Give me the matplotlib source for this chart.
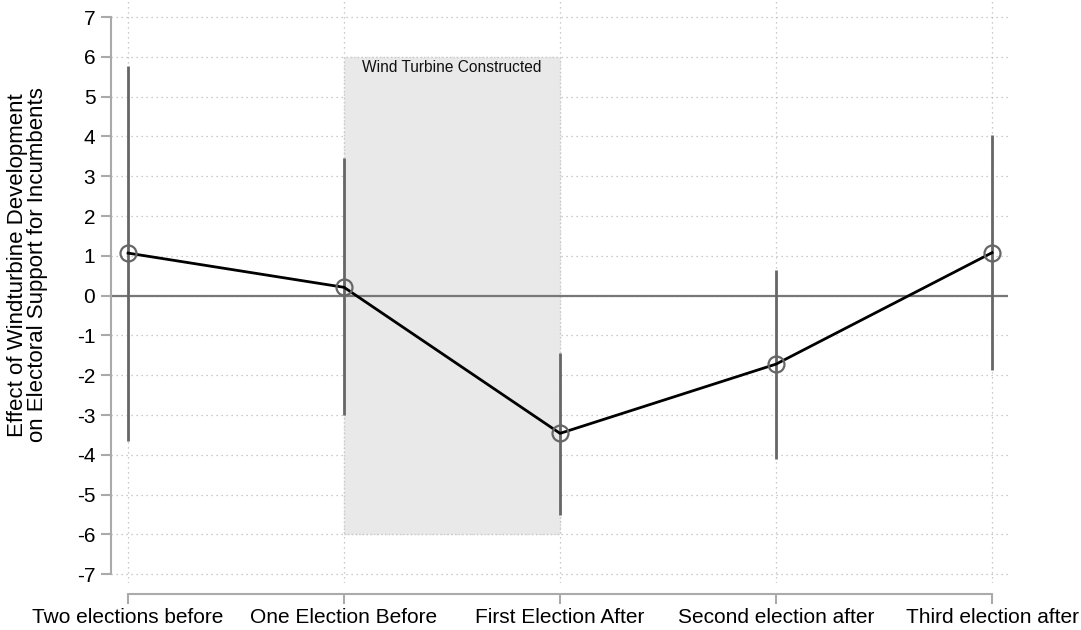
import matplotlib.pyplot as plt
from matplotlib.patches import Rectangle

plt.rcParams['font.family'] = ['Liberation Sans', 'DejaVu Sans']

# Event-study estimates with 95% confidence bounds
periods = ["Two elections before", "One Election Before", "First Election After",
           "Second election after", "Third election after"]
estimates = [1.07, 0.21, -3.46, -1.72, 1.08]
ci_low = [-3.66, -3.00, -5.52, -4.11, -1.87]
ci_high = [5.77, 3.46, -1.45, 0.64, 4.04]
yticks = list(range(-7, 8))

W, H = 1081, 630
fig = plt.figure(figsize=(W / 100, H / 100), dpi=100)
ax = fig.add_axes([111 / W, 47 / H, (1008 - 111) / W, 583 / H])

x = list(range(len(periods)))

# Shaded window for the construction period
ax.add_patch(Rectangle((1, -6), 1, 12, facecolor='#e9e9e9', edgecolor='#c8c8c8',
                       linewidth=1.0, linestyle=':', zorder=1))
ax.text(1.5, 5.93, "Wind Turbine Constructed", ha='center', va='top',
        fontsize=11.2, color='#111111', zorder=5)

# Grid
for yv in yticks:
    ax.axhline(yv, color='#bbbbbb', linestyle=(0, (1, 3)), linewidth=0.9, zorder=0.5)
for xv in x:
    ax.axvline(xv, color='#bbbbbb', linestyle=(0, (1, 3)), linewidth=0.9, zorder=0.5)

ax.axhline(0, color='#777777', linewidth=1.6, zorder=2)

# Confidence intervals, estimates and connecting line
ax.vlines(x, ci_low, ci_high, color='#666666', linewidth=2.0, zorder=3)
ax.plot(x, estimates, color='black', linewidth=2.0, zorder=4)
ax.plot(x, estimates, linestyle='none', marker='o', markersize=11.5,
        markerfacecolor='none', markeredgecolor='#666666', markeredgewidth=1.6, zorder=5)

ax.set_xlim(-0.079, 4.074)
ax.set_ylim(-7.22, 7.43)

for side in ['top', 'right']:
    ax.spines[side].set_visible(False)
ax.spines['left'].set_bounds(-7, 7)
ax.spines['bottom'].set_bounds(0, 4)
ax.spines['bottom'].set_position(('outward', 8))
for side in ['left', 'bottom']:
    ax.spines[side].set_color('#aaaaaa')
    ax.spines[side].set_linewidth(1.5)
ax.tick_params(axis='both', colors='#aaaaaa', width=1.5, length=7.3,
               labelcolor='black', labelsize=15)
ax.tick_params(axis='x', pad=3)
ax.tick_params(axis='y', pad=4)

ax.set_xticks(x)
ax.set_xticklabels(periods)
ax.set_yticks(yticks)
ax.set_yticklabels([str(v) for v in yticks])

ax.set_ylabel("Effect of Windturbine Development\non Electoral Support for Incumbents",
              fontsize=16, linespacing=0.95)
ax.yaxis.set_label_coords(-(111 - 48) / (1008 - 111), (583 - 265) / 583)

fig.savefig('out.png', dpi=100)
